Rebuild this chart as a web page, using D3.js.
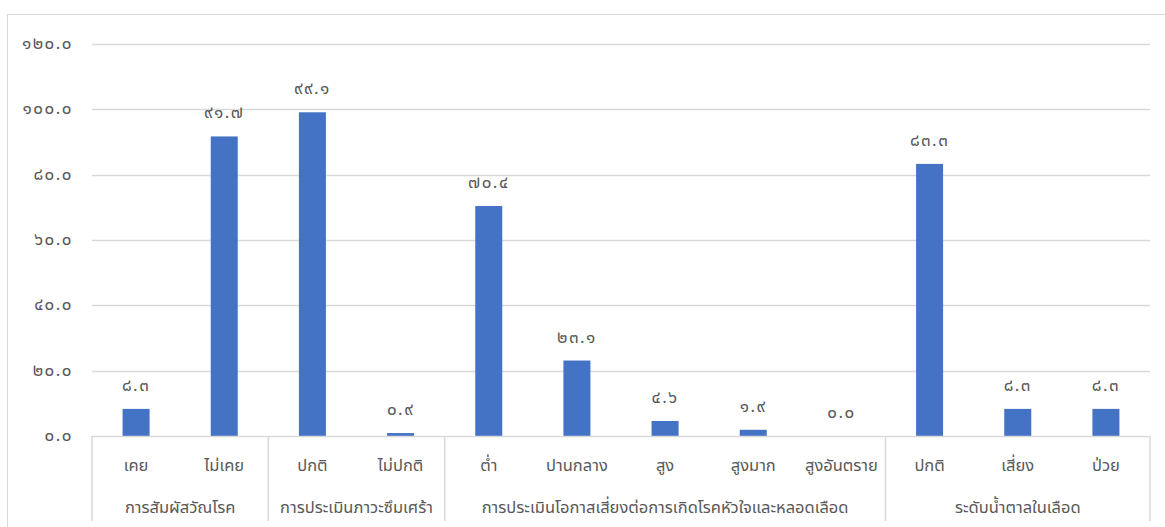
<!DOCTYPE html>
<html>
<head>
<meta charset="utf-8">
<script src="https://cdn.jsdelivr.net/npm/d3@7"></script>
<style>
  body { margin: 0; background: #fff; }
  svg text { font-family: "Noto Sans Thai", "Leelawadee UI", Tahoma, "Noto Sans", sans-serif; fill: #595959; }
  .num { font-size: 17px; letter-spacing: 1.5px; }
</style>
</head>
<body>
<svg class="display"></svg>
<script>
const categories = ['เคย', 'ไม่เคย', 'ปกติ', 'ไม่ปกติ', 'ต่ำ', 'ปานกลาง', 'สูง', 'สูงมาก', 'สูงอันตราย', 'ปกติ', 'เสี่ยง', 'ป่วย'];
const values = [8.3, 91.7, 99.1, 0.9, 70.4, 23.1, 4.6, 1.9, 0.0, 83.3, 8.3, 8.3];
const groups = ['การสัมผัสวัณโรค', 'การประเมินภาวะซึมเศร้า', 'การประเมินโอกาสเสี่ยงต่อการเกิดโรคหัวใจและหลอดเลือด', 'ระดับน้ำตาลในเลือด'];
const groupSizes = [2, 2, 5, 3];
const yTicks = [0, 20, 40, 60, 80, 100, 120];

const width = 1165;
const height = 527;

const thaiDigits = '๐๑๒๓๔๕๖๗๘๙';
const thai = s => s.replace(/[0-9]/g, c => thaiDigits[+c]);
const fmt = v => thai(v.toFixed(1));

const svg = d3.select('.display')
  .attr('width', width)
  .attr('height', height);

// chart frame
svg.append('rect')
  .attr('x', 7.5).attr('y', 14.5)
  .attr('width', width).attr('height', height)
  .attr('fill', 'none')
  .attr('stroke', '#d9d9d9');

const plotLeft = 92, plotRight = 1150, plotTop = 44, plotBottom = 436;

const x = d3.scaleBand()
  .domain(d3.range(categories.length))
  .range([plotLeft, plotRight]);

const y = d3.scaleLinear()
  .domain([0, 120])
  .range([plotBottom, plotTop]);

// gridlines
svg.append('g')
  .selectAll('line')
  .data(yTicks.slice(1))
  .join('line')
    .attr('x1', plotLeft).attr('x2', plotRight)
    .attr('y1', d => Math.round(y(d)) + 0.5)
    .attr('y2', d => Math.round(y(d)) + 0.5)
    .attr('stroke', '#d9d9d9')
    .attr('stroke-width', 1.5);

// y tick labels
svg.append('g')
  .selectAll('text')
  .data(yTicks)
  .join('text')
    .attr('class', 'num')
    .attr('x', 73)
    .attr('y', d => y(d))
    .attr('dy', '0.3em')
    .attr('text-anchor', 'end')
    .text(d => fmt(d));

// bars
const barW = 27;
svg.append('g')
  .selectAll('rect')
  .data(values)
  .join('rect')
    .attr('x', (d, i) => x(i) + x.bandwidth() / 2 - barW / 2)
    .attr('y', d => y(d))
    .attr('width', barW)
    .attr('height', d => plotBottom - y(d))
    .attr('fill', '#4472c4');

// data labels
svg.append('g')
  .selectAll('text')
  .data(values)
  .join('text')
    .attr('class', 'num')
    .attr('x', (d, i) => x(i) + x.bandwidth() / 2)
    .attr('y', d => y(d) - 18)
    .attr('text-anchor', 'middle')
    .text(d => fmt(d));

// category axis
svg.append('line')
  .attr('x1', plotLeft).attr('x2', plotRight)
  .attr('y1', plotBottom + 0.5).attr('y2', plotBottom + 0.5)
  .attr('stroke', '#d9d9d9')
  .attr('stroke-width', 1.5);

const bounds = [0].concat(Array.from(d3.cumsum(groupSizes)));
svg.append('g')
  .selectAll('line')
  .data(bounds)
  .join('line')
    .attr('x1', d => x(0) + d * x.step())
    .attr('x2', d => x(0) + d * x.step())
    .attr('y1', plotBottom)
    .attr('y2', 521)
    .attr('stroke', '#d9d9d9')
    .attr('stroke-width', 1.5);

svg.append('g')
  .selectAll('text')
  .data(categories)
  .join('text')
    .attr('x', (d, i) => x(i) + x.bandwidth() / 2)
    .attr('y', 471)
    .attr('text-anchor', 'middle')
    .style('font-size', '16.5px')
    .text(d => d);

svg.append('g')
  .selectAll('text')
  .data(groups)
  .join('text')
    .attr('x', (d, i) => x(0) + (bounds[i] + bounds[i + 1]) / 2 * x.step())
    .attr('y', 513)
    .attr('text-anchor', 'middle')
    .style('font-size', '16.5px')
    .text(d => d);
</script>
</body>
</html>
